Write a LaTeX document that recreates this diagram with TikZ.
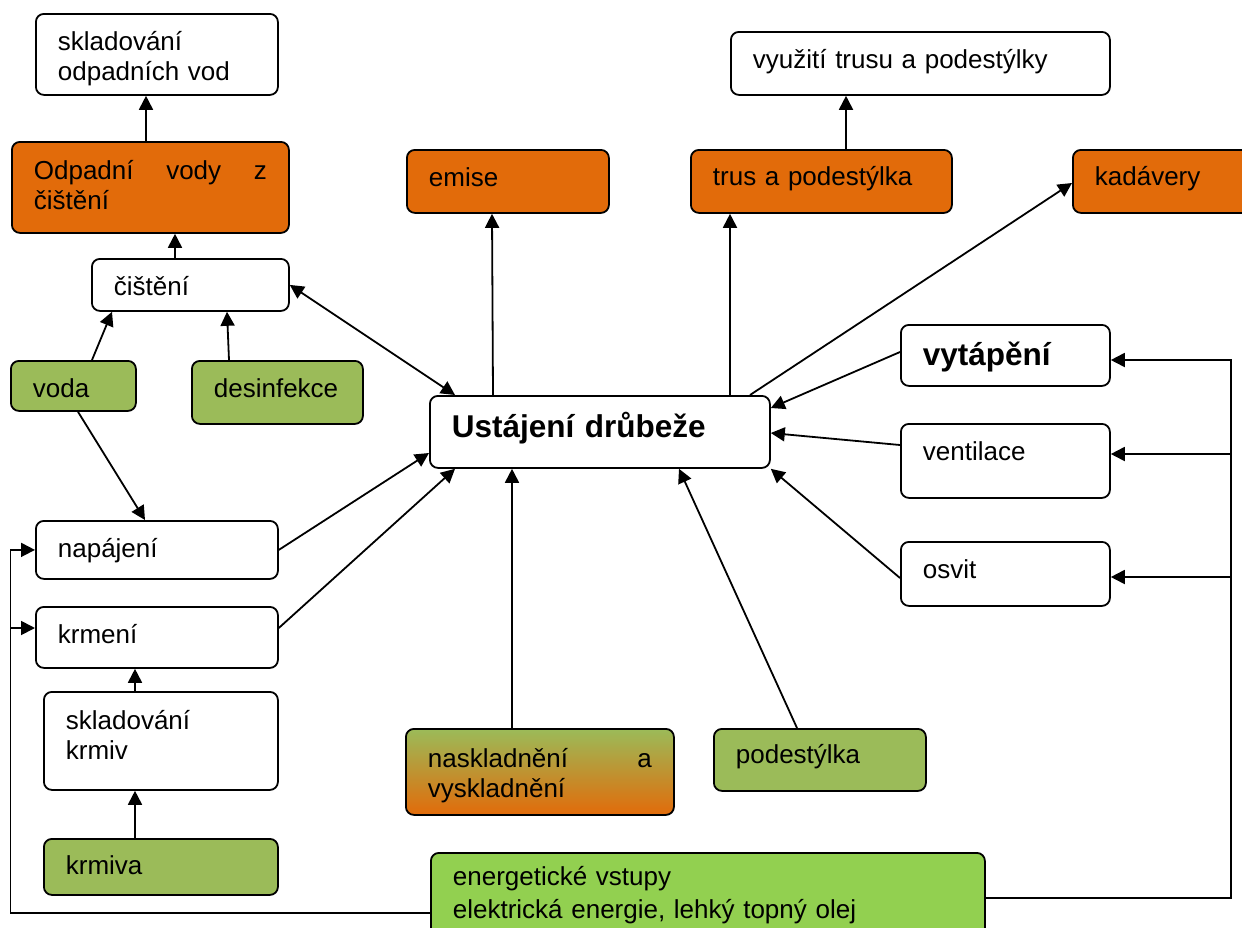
\documentclass[tikz,border=0pt]{standalone}
\usepackage{fontspec}
\setmainfont{Liberation Sans}
\usetikzlibrary{arrows.meta}
\definecolor{accorange}{RGB}{226,107,10}
\definecolor{accolive}{RGB}{155,187,89}
\definecolor{acclime}{RGB}{146,208,80}
\hyphenpenalty=10000
\tikzset{
	box/.style={draw, fill=white, rounded corners=8pt, line width=1.8pt, anchor=north west, align=left, inner xsep=22pt, inner ysep=0pt, font=\fontsize{26}{30}\selectfont},
	outbox/.style={box, fill=accorange},
	inbox/.style={box, fill=accolive},
	arr/.style={line width=1.8pt, ->, >={Triangle[length=14pt,width=14pt]}},
}

\begin{document}
\begin{tikzpicture}[x=1pt,y=-1pt]
			%%%%% START %%%%%
			\clip (0,0) rectangle (1242,927);
			\fill[white] (0,0) rectangle (1242,927);
			
			% left column
			\node[box, text width=198pt, text height=37pt, text depth=44pt] (skladov) at (35,13) {skladování\\odpadních vod};
			\node[outbox, align=justify, text width=233pt, text height=38pt, text depth=53pt] (odpadni) at (11,141) {Odpadní vody z čištění};
			\node[box, text width=153pt, text height=37pt, text depth=15pt] (cisteni) at (91,258) {čištění};
			\node[inbox, text width=81pt, text height=37pt, text depth=13pt] (voda) at (10,360) {voda};
			\node[inbox, text width=127pt, text height=37pt, text depth=26pt] (desinf) at (191,360) {desinfekce};
			\node[box, text width=198pt, text height=37pt, text depth=21pt] (napajeni) at (35,520) {napájení};
			\node[box, text width=198pt, text height=37pt, text depth=24pt] (krmeni) at (35,606) {krmení};
			\node[box, text width=190pt, text height=38pt, text depth=60pt] (skladk) at (43,691) {skladování\\krmiv};
			\node[inbox, text width=190pt, text height=36pt, text depth=20pt] (krmiva) at (43,838) {krmiva};
			
			% centre
			\node[box, text width=296pt, text height=42pt, text depth=30pt, font=\fontsize{31.5}{36}\selectfont\bfseries] (ustajeni) at (429,395) {Ustájení drůbeže};
			\node[outbox, text width=158pt, text height=37pt, text depth=26pt] (emise) at (406,149) {emise};
			\node[outbox, text width=217pt, text height=36pt, text depth=27pt] (trus) at (690,149) {trus a podestýlka};
			\node[box, text width=335pt, text height=37pt, text depth=26pt] (vyuziti) at (730,31) {využití trusu a podestýlky};
			\node[outbox, text width=156pt, text height=36pt, text depth=27pt] (kadavery) at (1072,149) {kadávery};
			\node[box, top color=accolive, bottom color=accorange, align=justify, text width=224pt, text height=39pt, text depth=47pt] (nasklad) at (405,728) {naskladnění a vyskladnění};
			\node[inbox, text width=168pt, text height=35pt, text depth=27pt] (podest) at (713,728) {podestýlka};
			\node[box, fill=acclime, text width=510pt, text height=33pt, text depth=100pt, font=\fontsize{26}{33}\selectfont] (energie) at (430,852) {energetické vstupy\\elektrická energie, lehký topný olej};
			
			% right column
			\node[box, text width=165pt, text height=41pt, text depth=20pt, font=\fontsize{31.5}{36}\selectfont\bfseries] (vytapeni) at (900,324) {vytápění};
			\node[box, text width=165pt, text height=37pt, text depth=37pt] (ventilace) at (900,423) {ventilace};
			\node[box, text width=165pt, text height=37pt, text depth=27pt] (osvit) at (900,541) {osvit};
			
			% connectors
			\draw[arr] ([xshift=135pt]odpadni.north west) -- ([xshift=111pt]skladov.south west);
			\draw[arr] ([xshift=84pt]cisteni.north west) -- ([xshift=164pt]odpadni.south west);
			\draw[arr] ([xshift=82pt]voda.north west) -- ([xshift=21pt]cisteni.south west);
			\draw[arr] ([xshift=38pt]desinf.north west) -- ([xshift=136pt]cisteni.south west);
			\draw[arr] ([xshift=68pt]voda.south west) -- ([xshift=110pt]napajeni.north west);
			\draw[arr, <->] (cisteni.east) -- ([xshift=26pt]ustajeni.north west);
			\draw[arr] (napajeni.east) -- ([yshift=-58pt]ustajeni.north west);
			\draw[arr] ([yshift=-22pt]krmeni.north east) -- ([xshift=26pt]ustajeni.south west);
			\draw[arr] ([xshift=92pt]skladk.north west) -- ([xshift=100pt]krmeni.south west);
			\draw[arr] ([xshift=92pt]krmiva.north west) -- ([xshift=92pt]skladk.south west);
			
			\draw[arr] ([xshift=64pt]ustajeni.north west) -- ([xshift=86pt]emise.south west);
			\draw[arr] ([xshift=301pt]ustajeni.north west) -- ([xshift=40pt]trus.south west);
			\draw[arr] ([xshift=156pt]trus.north west) -- ([xshift=116pt]vyuziti.south west);
			\draw[arr] ([xshift=321pt]ustajeni.north west) -- ([yshift=-34pt]kadavery.north west);
			\draw[arr] ([yshift=-28pt]vytapeni.north west) -- ([yshift=-13pt]ustajeni.north east);
			\draw[arr] ([yshift=-22pt]ventilace.north west) -- ([yshift=-38pt]ustajeni.north east);
			\draw[arr] ([yshift=-37pt]osvit.north west) -- (ustajeni.south east);
			\draw[arr] ([xshift=107pt]nasklad.north west) -- ([xshift=83pt]ustajeni.south west);
			\draw[arr] ([xshift=84pt]podest.north west) -- ([xshift=250pt]ustajeni.south west);
			
			% energy lines
			\coordinate (lcorner) at (10.5,913);
			\coordinate (rcorner) at (1231,898);
			\coordinate (krmtap) at ([yshift=-22pt]krmeni.north west);
			\coordinate (vyttap) at ([yshift=-36pt]vytapeni.north east);
			\coordinate (venttap) at ([yshift=-31pt]ventilace.north east);
			\coordinate (osvtap) at ([yshift=-36pt]osvit.north east);
			\draw[arr] ([yshift=-61pt]energie.north west) -- (lcorner) |- (napajeni.west);
			\draw[arr] (lcorner |- krmtap) -- (krmtap);
			\draw[arr] ([yshift=-46pt]energie.north east) -- (rcorner) |- (vyttap);
			\draw[arr] (rcorner |- venttap) -- (venttap);
			\draw[arr] (rcorner |- osvtap) -- (osvtap);
			
			%%%%% END %%%%%
\end{tikzpicture}
\end{document}
